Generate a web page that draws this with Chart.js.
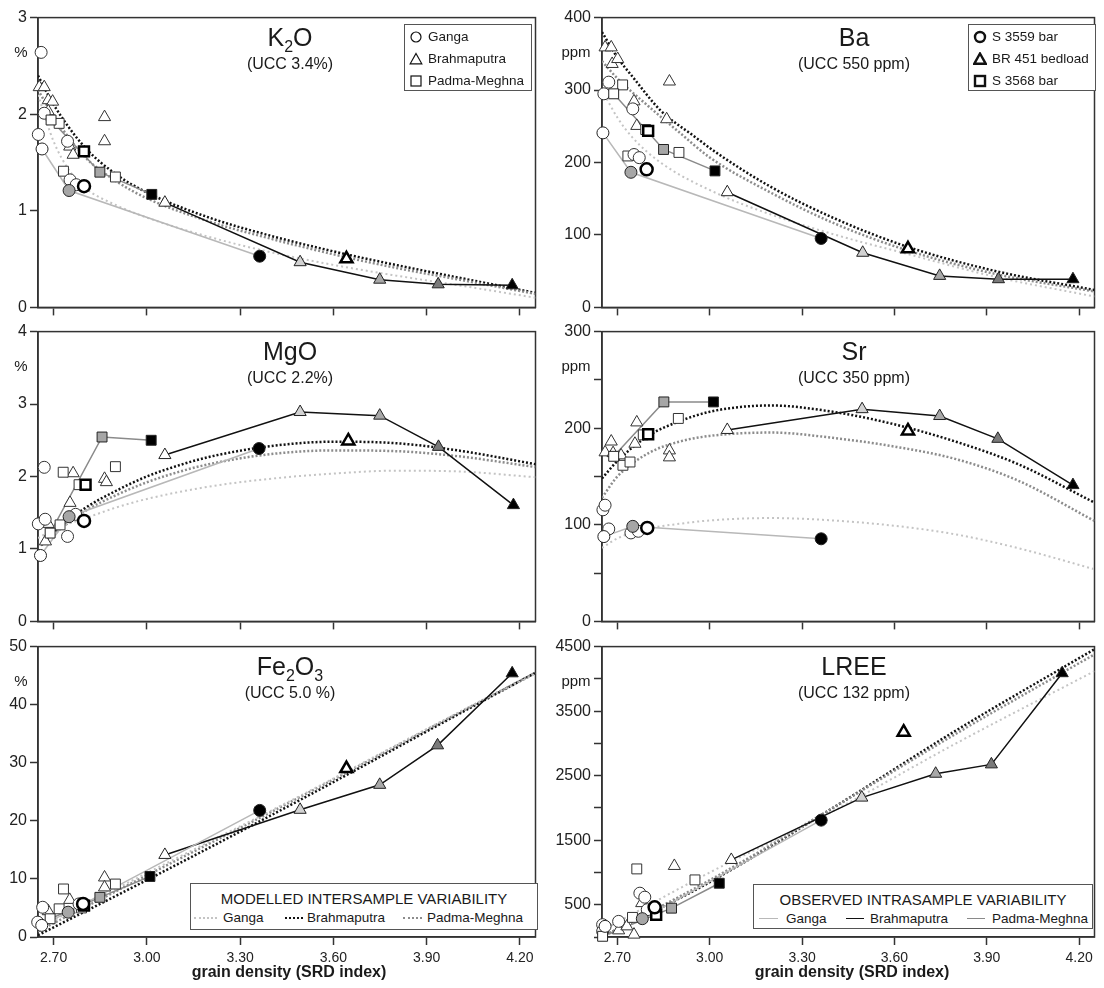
<!DOCTYPE html>
<html>
<head>
<meta charset="utf-8">
<script src="https://cdn.jsdelivr.net/npm/chart.js@4.4.1/dist/chart.umd.min.js"></script>
<style>
  html, body { margin: 0; padding: 0; background: #fff; }
  body { width: 1104px; height: 988px; position: relative; overflow: hidden;
         font-family: "Liberation Sans", Arial, Helvetica, sans-serif; color: #1a1a1a; }
  canvas { position: absolute; }
  .ttl { position: absolute; width: 200px; text-align: center; font-size: 25px; line-height: 25px; }
  .ttl sub { font-size: 16px; vertical-align: -6px; line-height: 0; }
  .ucc { position: absolute; width: 200px; text-align: center; font-size: 16px; line-height: 16px; }
  .unit { position: absolute; width: 40px; text-align: center; font-size: 15px; line-height: 16px; }
  .xt { position: absolute; width: 300px; text-align: center; font-weight: bold; font-size: 16px; line-height: 16px; }
  .lg { position: absolute; background: #fff; border: 1.5px solid #555; box-sizing: border-box; font-size: 13.5px; }
  .lg .row { position: absolute; left: 0; height: 22px; line-height: 22px; white-space: nowrap; }
  .lg .cap { position: absolute; left: 0; width: 100%; text-align: center; font-size: 15px; line-height: 16px; }
  .lg .it { position: absolute; line-height: 16px; white-space: nowrap; }
  .sw { position: absolute; height: 0; }
</style>
</head>
<body>
<script>
const X_TICKS = [2.70, 3.00, 3.30, 3.60, 3.90, 4.20];

// ---- K2O (%) ----
const K2O_GANGA        = [[2.66,2.64],[2.67,2.01],[2.651,1.79],[2.745,1.72],[2.753,1.32],[2.773,1.27]];
const K2O_GANGA_BULK   = [[2.798,1.255]];
const K2O_GANGA_FRAC   = [[2.663,1.64],[2.75,1.21],[3.363,0.53]];
const K2O_GANGA_MODEL  = [[2.65,2.2],[2.70,1.72],[2.75,1.42],[2.80,1.24],[2.90,1.06],[3.00,0.93],[3.20,0.73],[3.40,0.57],[3.60,0.44],[3.80,0.33],[4.00,0.23],[4.25,0.10]];
const K2O_BRAHMA       = [[2.654,2.28],[2.67,2.28],[2.683,2.145],[2.697,2.13],[2.683,2.03],[2.752,1.665],[2.763,1.58],[2.864,1.97],[2.864,1.72]];
const K2O_BRAHMA_BULK  = [[3.642,0.503]];
const K2O_BRAHMA_FRAC  = [[3.058,1.084],[3.493,0.468],[3.749,0.287],[3.937,0.239],[4.175,0.229]];
const K2O_BRAHMA_MODEL = [[2.65,2.40],[2.70,2.10],[2.80,1.66],[2.90,1.38],[3.00,1.19],[3.20,0.93],[3.40,0.74],[3.60,0.58],[3.80,0.44],[4.00,0.31],[4.25,0.15]];
const K2O_PADMA        = [[2.718,1.905],[2.732,1.41],[2.899,1.35]];
const K2O_PADMA_BULK   = [[2.798,1.615]];
const K2O_PADMA_FRAC   = [[2.692,1.94],[2.849,1.40],[3.016,1.17]];
const K2O_PADMA_MODEL  = [[2.65,2.25],[2.70,1.98],[2.80,1.56],[2.90,1.31],[3.00,1.13],[3.20,0.89],[3.40,0.71],[3.60,0.55],[3.80,0.41],[4.00,0.29],[4.25,0.14]];

// ---- Ba (ppm) ----
const BA_GANGA        = [[2.656,294.8],[2.672,310.9],[2.75,274],[2.754,211],[2.771,206.7]];
const BA_GANGA_BULK   = [[2.795,190.6]];
const BA_GANGA_FRAC   = [[2.653,240.9],[2.744,186.5],[3.362,95.2]];
const BA_GANGA_MODEL  = [[2.65,300],[2.70,262],[2.75,234],[2.84,200],[3.02,158],[3.20,128],[3.41,100],[3.64,74],[3.93,42],[4.25,15]];
const BA_BRAHMA       = [[2.66,358.9],[2.68,358.9],[2.683,336],[2.701,342.8],[2.754,284.4],[2.763,250.5],[2.869,311.8],[2.86,259.7]];
const BA_BRAHMA_BULK  = [[3.644,80.9]];
const BA_BRAHMA_FRAC  = [[3.057,159],[3.497,75.4],[3.747,43.5],[3.938,38.9],[4.18,38.9]];
const BA_BRAHMA_MODEL = [[2.65,380],[2.70,345],[2.75,318],[2.84,272],[2.95,236],[3.02,214],[3.20,166],[3.41,122],[3.64,84],[3.93,50],[4.25,24]];
const BA_PADMA        = [[2.717,307.1],[2.734,209],[2.792,245.5],[2.90,213.9]];
const BA_PADMA_BULK   = [[2.80,243.7]];
const BA_PADMA_FRAC   = [[2.688,294.8],[2.85,218],[3.017,188.4]];
const BA_PADMA_MODEL  = [[2.65,340],[2.70,316],[2.80,278],[2.90,242],[3.00,207],[3.20,158],[3.41,115],[3.64,79],[3.93,46],[4.25,22]];

// ---- MgO (%) ----
const MGO_GANGA        = [[2.67,2.127],[2.651,1.346],[2.673,1.41],[2.745,1.173],[2.771,1.478]];
const MGO_GANGA_BULK   = [[2.798,1.387]];
const MGO_GANGA_FRAC   = [[2.658,0.91],[2.75,1.445],[3.361,2.386]];
const MGO_GANGA_MODEL  = [[2.65,1.15],[2.70,1.27],[2.80,1.42],[2.90,1.57],[3.00,1.69],[3.20,1.86],[3.40,1.97],[3.60,2.04],[3.80,2.08],[4.00,2.07],[4.25,1.99]];
const MGO_BRAHMA       = [[2.674,1.104],[2.683,1.346],[2.763,2.045],[2.753,1.636],[2.864,1.968],[2.87,1.922]];
const MGO_BRAHMA_BULK  = [[3.648,2.49]];
const MGO_BRAHMA_FRAC  = [[3.058,2.296],[3.493,2.89],[3.749,2.84],[3.938,2.409],[4.179,1.605]];
const MGO_BRAHMA_MODEL = [[2.66,1.05],[2.70,1.22],[2.80,1.56],[2.90,1.80],[3.00,2.00],[3.10,2.15],[3.20,2.27],[3.40,2.42],[3.60,2.48],[3.80,2.46],[4.00,2.36],[4.25,2.17]];
const MGO_PADMA        = [[2.721,1.332],[2.731,2.059],[2.782,1.887],[2.899,2.136]];
const MGO_PADMA_BULK   = [[2.803,1.887]];
const MGO_PADMA_FRAC   = [[2.689,1.219],[2.856,2.545],[3.014,2.50]];
const MGO_PADMA_MODEL  = [[2.66,1.05],[2.70,1.20],[2.80,1.52],[2.90,1.74],[3.00,1.92],[3.10,2.06],[3.20,2.17],[3.40,2.31],[3.60,2.36],[3.80,2.35],[4.00,2.28],[4.25,2.13]];

// ---- Sr (ppm) ----
const SR_GANGA        = [[2.653,115.5],[2.66,120.3],[2.672,95.7],[2.744,91.6],[2.768,93.3]];
const SR_GANGA_BULK   = [[2.797,96.8]];
const SR_GANGA_FRAC   = [[2.656,87.8],[2.75,98.4],[3.362,85.5]];
const SR_GANGA_MODEL  = [[2.65,76],[2.70,86],[2.80,96],[2.90,101],[3.00,104.5],[3.20,107],[3.40,104.5],[3.60,99],[3.80,90],[4.00,76],[4.25,54]];
const SR_BRAHMA       = [[2.66,175],[2.68,186.2],[2.686,174.2],[2.712,171.9],[2.763,206],[2.757,183.9],[2.869,177],[2.869,169.8]];
const SR_BRAHMA_BULK  = [[3.644,197.2]];
const SR_BRAHMA_FRAC  = [[3.057,198.2],[3.495,219.7],[3.747,212.6],[3.936,189],[4.18,141.1]];
const SR_BRAHMA_MODEL = [[2.65,148],[2.70,166],[2.80,192],[2.90,207],[3.00,217],[3.10,222],[3.20,223.5],[3.40,217],[3.60,204],[3.80,186],[4.00,163],[4.25,123]];
const SR_PADMA        = [[2.718,161.6],[2.741,165],[2.784,193.1],[2.898,210.1]];
const SR_PADMA_BULK   = [[2.80,193.7]];
const SR_PADMA_FRAC   = [[2.688,170.9],[2.851,227.2],[3.012,227.2]];
const SR_PADMA_MODEL  = [[2.65,128],[2.70,150],[2.80,174],[2.90,186],[3.00,192],[3.20,195.5],[3.40,190],[3.60,181],[3.80,168],[4.00,146],[4.25,104]];

// ---- Fe2O3 (%) ----
const FE_GANGA        = [[2.649,2.56],[2.665,5.12],[2.782,5.7]];
const FE_GANGA_BULK   = [[2.795,5.7]];
const FE_GANGA_FRAC   = [[2.662,2.0],[2.747,4.27],[3.363,21.8]];
const FE_GANGA_MODEL  = [[2.65,1.5],[3.00,11.0],[3.50,24.5],[4.00,38.6],[4.25,45.3]];
const FE_BRAHMA       = [[2.683,4.44],[2.752,6.39],[2.864,10.25],[2.864,8.54]];
const FE_BRAHMA_BULK  = [[3.642,29.0]];
const FE_BRAHMA_FRAC  = [[3.058,14.13],[3.493,21.9],[3.749,26.2],[3.935,33.0],[4.175,45.4]];
const FE_BRAHMA_MODEL = [[2.65,0.3],[3.00,9.8],[3.50,23.8],[4.00,38.3],[4.25,45.5]];
const FE_PADMA        = [[2.732,8.27],[2.718,4.85],[2.899,9.12],[2.79,5.0]];
const FE_PADMA_BULK   = [[2.798,5.41]];
const FE_PADMA_FRAC   = [[2.689,3.14],[2.849,6.83],[3.01,10.42]];
const FE_PADMA_MODEL  = [[2.65,1.0],[3.00,10.6],[3.50,24.3],[4.00,38.5],[4.25,45.5]];

// ---- LREE (ppm) ----
const LREE_GANGA        = [[2.652,191],[2.652,88],[2.704,242],[2.773,679],[2.789,617],[2.797,423]];
const LREE_GANGA_BULK   = [[2.821,460]];
const LREE_GANGA_FRAC   = [[2.66,165],[2.781,284],[3.362,1811]];
const LREE_GANGA_MODEL  = [[2.65,100],[3.00,1000],[3.40,1950],[3.80,3000],[4.25,4120]];
const LREE_BRAHMA       = [[2.704,103],[2.731,165],[2.754,37],[2.779,525],[2.885,1101]];
const LREE_BRAHMA_BULK  = [[3.63,3173]];
const LREE_BRAHMA_FRAC  = [[3.070,1194],[3.494,2160],[3.734,2530],[3.915,2675],[4.145,4088]];
const LREE_BRAHMA_MODEL = [[2.65,0],[3.00,850],[3.40,2000],[3.80,3200],[4.25,4460]];
const LREE_PADMA        = [[2.763,1055],[2.749,304],[2.952,885]];
const LREE_PADMA_BULK   = [[2.826,345]];
const LREE_PADMA_FRAC   = [[2.652,11],[2.876,447],[3.031,833]];
const LREE_PADMA_MODEL  = [[2.65,0],[3.00,880],[3.40,2000],[3.80,3150],[4.25,4380]];

const FONT = '"Liberation Sans", Arial, Helvetica, sans-serif';

const STYLE = {
  ganga:  { shape: 'circle',   r: 6, line: '#b8b8b8', model: '#c4c4c4', dash: [2, 3], mw: 2,
            shades: ['#fff', '#a6a6a6', '#000'] },
  brahma: { shape: 'triangle', r: 7, line: '#111',    model: '#111',    dash: [2, 2], mw: 2.5,
            shades: ['#fff', '#d2d2d2', '#a8a8a8', '#7a7a7a', '#000'] },
  padma:  { shape: 'rect',     r: 7, line: '#8a8a8a', model: '#8c8c8c', dash: [2, 2], mw: 2.5,
            shades: ['#fff', '#a6a6a6', '#000'] }
};

const PANELS = [
  { col: 0, row: 0, title: 'K<sub>2</sub>O', ucc: '(UCC 3.4%)', unit: '%', max: 3, step: 1,
    label: v => v,
    ganga:  [K2O_GANGA, K2O_GANGA_BULK, K2O_GANGA_FRAC, K2O_GANGA_MODEL],
    brahma: [K2O_BRAHMA, K2O_BRAHMA_BULK, K2O_BRAHMA_FRAC, K2O_BRAHMA_MODEL],
    padma:  [K2O_PADMA, K2O_PADMA_BULK, K2O_PADMA_FRAC, K2O_PADMA_MODEL] },
  { col: 1, row: 0, title: 'Ba', ucc: '(UCC 550 ppm)', unit: 'ppm', max: 400, step: 100,
    label: v => v,
    ganga:  [BA_GANGA, BA_GANGA_BULK, BA_GANGA_FRAC, BA_GANGA_MODEL],
    brahma: [BA_BRAHMA, BA_BRAHMA_BULK, BA_BRAHMA_FRAC, BA_BRAHMA_MODEL],
    padma:  [BA_PADMA, BA_PADMA_BULK, BA_PADMA_FRAC, BA_PADMA_MODEL] },
  { col: 0, row: 1, title: 'MgO', ucc: '(UCC 2.2%)', unit: '%', max: 4, step: 1,
    label: v => v,
    ganga:  [MGO_GANGA, MGO_GANGA_BULK, MGO_GANGA_FRAC, MGO_GANGA_MODEL],
    brahma: [MGO_BRAHMA, MGO_BRAHMA_BULK, MGO_BRAHMA_FRAC, MGO_BRAHMA_MODEL],
    padma:  [MGO_PADMA, MGO_PADMA_BULK, MGO_PADMA_FRAC, MGO_PADMA_MODEL] },
  { col: 1, row: 1, title: 'Sr', ucc: '(UCC 350 ppm)', unit: 'ppm', max: 300, step: 50,
    label: v => (v % 100 === 0 ? v : ''),
    ganga:  [SR_GANGA, SR_GANGA_BULK, SR_GANGA_FRAC, SR_GANGA_MODEL],
    brahma: [SR_BRAHMA, SR_BRAHMA_BULK, SR_BRAHMA_FRAC, SR_BRAHMA_MODEL],
    padma:  [SR_PADMA, SR_PADMA_BULK, SR_PADMA_FRAC, SR_PADMA_MODEL] },
  { col: 0, row: 2, title: 'Fe<sub>2</sub>O<sub>3</sub>', ucc: '(UCC 5.0 %)', unit: '%', max: 50, step: 10,
    label: v => v,
    ganga:  [FE_GANGA, FE_GANGA_BULK, FE_GANGA_FRAC, FE_GANGA_MODEL],
    brahma: [FE_BRAHMA, FE_BRAHMA_BULK, FE_BRAHMA_FRAC, FE_BRAHMA_MODEL],
    padma:  [FE_PADMA, FE_PADMA_BULK, FE_PADMA_FRAC, FE_PADMA_MODEL] },
  { col: 1, row: 2, title: 'LREE', ucc: '(UCC 132 ppm)', unit: 'ppm', max: 4500, step: 500,
    label: v => (v % 1000 === 500 ? v : ''),
    ganga:  [LREE_GANGA, LREE_GANGA_BULK, LREE_GANGA_FRAC, LREE_GANGA_MODEL],
    brahma: [LREE_BRAHMA, LREE_BRAHMA_BULK, LREE_BRAHMA_FRAC, LREE_BRAHMA_MODEL],
    padma:  [LREE_PADMA, LREE_PADMA_BULK, LREE_PADMA_FRAC, LREE_PADMA_MODEL] }
];

const COLS = [
  { left: 0,   width: 545, yw: 38, padR: 5, cx: 290 },
  { left: 555, width: 549, yw: 47, padR: 1, cx: 854 }
];
const ROW_TOP = [5, 319, 634];
const PLOT_H = 293;

const pts = arr => arr.map(([x, y]) => ({ x, y }));

const frame = {
  id: 'frame',
  beforeDatasetsDraw(c) {
    const a = c.chartArea, ctx = c.ctx;
    ctx.save();
    ctx.strokeStyle = '#333';
    ctx.lineWidth = 1.5;
    ctx.strokeRect(a.left, a.top, a.right - a.left, a.bottom - a.top);
    ctx.restore();
  }
};

function riverSets(key, d) {
  const s = STYLE[key];
  const [samples, bulk, frac, model] = d;
  return [
    { type: 'line', data: pts(model), borderColor: s.model, borderDash: s.dash, borderWidth: s.mw,
      pointRadius: 0, fill: false, tension: 0.4, cubicInterpolationMode: 'monotone', order: 5 },
    { type: 'line', data: pts(frac), borderColor: s.line, borderWidth: 1.5,
      pointRadius: 0, fill: false, tension: 0, order: 4 },
    { data: pts(samples), pointStyle: s.shape, pointRadius: s.r, pointBackgroundColor: '#fff',
      pointBorderColor: '#333', pointBorderWidth: 1, clip: false, order: 3 },
    { data: pts(bulk), pointStyle: s.shape, pointRadius: s.r, pointBackgroundColor: '#fff',
      pointBorderColor: '#000', pointBorderWidth: 2.5, clip: false, order: 1 },
    { data: pts(frac), pointStyle: s.shape, pointRadius: s.r, pointBackgroundColor: s.shades,
      pointBorderColor: '#222', pointBorderWidth: 1, clip: false, order: 2 }
  ];
}

function addDiv(cls, html, left, top, extra) {
  const d = document.createElement('div');
  d.className = cls;
  d.innerHTML = html;
  d.style.left = left + 'px';
  d.style.top = top + 'px';
  if (extra) Object.assign(d.style, extra);
  document.body.appendChild(d);
  return d;
}

PANELS.forEach(p => {
  const col = COLS[p.col];
  const bottom = p.row === 2;
  const xh = bottom ? 30 : 12;
  const cv = document.createElement('canvas');
  cv.width = col.width;
  cv.height = 10 + PLOT_H + xh;
  cv.style.left = col.left + 'px';
  cv.style.top = ROW_TOP[p.row] + 'px';
  document.body.appendChild(cv);

  const axisGrid = { drawOnChartArea: false, drawTicks: true, tickLength: 8, tickColor: '#333', tickWidth: 1.5 };
  const axisBorder = { color: '#333', width: 1.5 };

  new Chart(cv, {
    type: 'scatter',
    data: {
      datasets: [
        ...riverSets('ganga', p.ganga),
        ...riverSets('padma', p.padma),
        ...riverSets('brahma', p.brahma)
      ]
    },
    options: {
      responsive: false,
      animation: false,
      layout: { padding: { top: 10, right: col.padR, left: 0, bottom: 0 } },
      plugins: { legend: { display: false }, tooltip: { enabled: false } },
      scales: {
        x: {
          type: 'linear', min: 2.65, max: 4.25,
          afterBuildTicks: a => { a.ticks = X_TICKS.map(v => ({ value: v })); },
          afterFit: s => { s.height = xh; },
          ticks: { callback: v => (bottom ? v.toFixed(2) : ''), color: '#222', padding: 5,
                   font: { size: 14, family: FONT }, maxRotation: 0, autoSkip: false },
          grid: axisGrid, border: axisBorder
        },
        y: {
          min: 0, max: p.max,
          afterFit: s => { s.width = col.yw; },
          ticks: { stepSize: p.step, callback: p.label, color: '#222', padding: 3,
                   font: { size: 16, family: FONT } },
          grid: axisGrid, border: axisBorder
        }
      }
    },
    plugins: [frame]
  });

  const top = ROW_TOP[p.row] + 10;
  addDiv('ttl', p.title, col.cx - 100, top + 22 - 12);
  addDiv('ucc', p.ucc, col.cx - 100, top + 49 - 8);
  addDiv('unit', p.unit, col.left + (p.col ? 21 : 21) - 20, top + 37 - 8);
  if (bottom) addDiv('xt', 'grain density (SRD index)', (p.col ? 852 : 289) - 150, 964);
});

// marker legends
function sym(shape, bold) {
  const sw = bold ? 2.4 : 1.2;
  let s;
  if (shape === 'circle') s = '<circle cx="7" cy="7" r="5"/>';
  else if (shape === 'triangle') s = '<polygon points="7,1.5 12.8,11.8 1.2,11.8"/>';
  else s = '<rect x="2" y="2" width="10" height="10"/>';
  return `<svg width="14" height="14" style="position:absolute;left:4px;top:4px" fill="#fff" stroke="#111" stroke-width="${sw}">${s}</svg>`;
}
function markerLegend(left, names, bold) {
  const box = addDiv('lg', '', left, 24, { width: '128px', height: '67px' });
  ['circle', 'triangle', 'rect'].forEach((sh, i) => {
    const r = document.createElement('div');
    r.className = 'row';
    r.style.top = (1 + i * 22) + 'px';
    r.style.width = '100%';
    r.innerHTML = sym(sh, bold) + `<span style="position:absolute;left:23px">${names[i]}</span>`;
    box.appendChild(r);
  });
}
markerLegend(404, ['Ganga', 'Brahmaputra', 'Padma-Meghna'], false);
markerLegend(968, ['S 3559 bar', 'BR 451 bedload', 'S 3568 bar'], true);

// line legends
function lineLegend(left, top, w, h, caption, kind, items) {
  const box = addDiv('lg', '', left, top, { width: w + 'px', height: h + 'px' });
  box.innerHTML = `<div class="cap" style="top:7px">${caption}</div>`;
  items.forEach(([x0, x1, tx, name, color]) => {
    box.innerHTML +=
      `<div class="sw" style="left:${x0}px;top:33px;width:${x1 - x0}px;border-top:${kind === 'dot' ? '2px dotted' : '1.5px solid'} ${color}"></div>` +
      `<div class="it" style="left:${tx}px;top:26px">${name}</div>`;
  });
}
lineLegend(190, 883, 348, 47, 'MODELLED INTERSAMPLE VARIABILITY', 'dot', [
  [3, 26, 32, 'Ganga', '#c4c4c4'],
  [94, 112, 116, 'Brahmaputra', '#111'],
  [212, 231, 236, 'Padma-Meghna', '#8c8c8c']
]);
lineLegend(753, 884, 340, 45, 'OBSERVED INTRASAMPLE VARIABILITY', 'solid', [
  [5, 24, 32, 'Ganga', '#b8b8b8'],
  [92, 110, 116, 'Brahmaputra', '#111'],
  [213, 231, 238, 'Padma-Meghna', '#8a8a8a']
]);
</script>
</body>
</html>
